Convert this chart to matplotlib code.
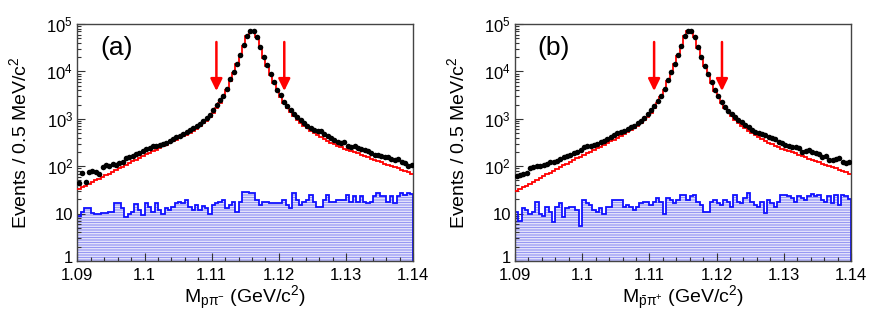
import numpy as np
import matplotlib
matplotlib.use("Agg")
import matplotlib.pyplot as plt
import matplotlib.transforms as mtransforms
from matplotlib.ticker import FixedLocator, MultipleLocator, FuncFormatter, LogLocator, NullFormatter

plt.rcParams['font.family'] = ['Liberation Sans', 'DejaVu Sans']
plt.rcParams['mathtext.fontset'] = 'custom'
plt.rcParams['mathtext.rm'] = 'Liberation Sans'
plt.rcParams['mathtext.it'] = 'Liberation Sans'
plt.rcParams['mathtext.sf'] = 'Liberation Sans'
plt.rcParams['mathtext.bf'] = 'Liberation Sans:bold'
plt.rcParams['hatch.linewidth'] = 0.55

# ---------------- data (100 bins of 0.5 MeV, 1.09 - 1.14 GeV) ----------------
x_range = [1.09, 1.14]
n_bins = 100

data_a = [44, 72, 46, 76, 80, 76, 68, 98, 108, 100,
          114, 108, 116, 120, 150, 158, 166, 178, 193, 208,
          232, 248, 262, 268, 282, 296, 316, 345, 382, 405,
          432, 478, 530, 578, 628, 700, 795, 905, 1020, 1200,
          1530, 1950, 2450, 3100, 4300, 6800, 9700, 14500, 22500, 35500,
          56000, 70000, 70000, 53000, 32500, 20000, 13400, 8900, 6000, 4000,
          3150, 2300, 1880, 1520, 1260, 1080, 940, 820, 720, 630,
          575, 540, 555, 470, 430, 392, 350, 330, 315, 325,
          268, 258, 265, 238, 228, 220, 205, 188, 175, 172,
          165, 160, 154, 140, 132, 143, 124, 115, 100, 106]

mc_a = [33, 36, 39, 42, 46, 50, 54, 59, 64, 70,
        76, 83, 90, 98, 107, 117, 127, 138, 150, 164,
        178, 192, 208, 225, 243, 263, 284, 307, 332, 360,
        389, 425, 465, 510, 560, 617, 700, 800, 920, 1070,
        1300, 1650, 2150, 2850, 4000, 6300, 9300, 14000, 21500, 34500,
        55000, 71000, 70000, 52000, 31500, 19500, 12800, 8400, 5600, 3800,
        2850, 2150, 1700, 1360, 1130, 950, 815, 710, 625, 555,
        495, 445, 405, 370, 340, 313, 290, 270, 252, 236,
        222, 209, 197, 186, 175, 163, 153, 144, 136, 128,
        121, 114, 108, 102, 96, 90, 85, 80, 75, 70]

bkg_a = [9, 11, 13, 13, 10.5, 10, 10, 10.5, 10.5, 11,
         11, 17, 17, 13, 8.5, 10, 11, 16, 12, 9.3,
         16.5, 14, 11, 16.5, 12, 10, 13, 12, 14, 16.5,
         18, 16.5, 19, 14, 12, 15, 12, 14.5, 13, 10,
         15, 16.5, 18, 19, 13, 15, 18, 11, 18, 29,
         29, 27, 27, 19, 15, 18, 18, 17, 17, 17,
         16.5, 19, 15, 13, 27, 19, 15, 18, 19, 25,
         18, 14, 14, 19, 25, 18, 18, 19, 19, 19,
         25, 18, 23, 18, 23, 18, 16.5, 18, 23, 27,
         23, 23, 18, 23, 16.5, 23, 27, 25, 27, 26]

data_b = [62, 65, 68, 73, 90, 97, 99, 101, 104, 112,
          122, 124, 126, 141, 155, 165, 173, 188, 203, 215,
          252, 265, 270, 282, 296, 318, 345, 375, 410, 455,
          495, 535, 565, 610, 670, 720, 800, 900, 1050, 1250,
          1500, 1900, 2400, 3100, 4200, 6700, 9600, 14300, 22000, 35000,
          55500, 70500, 69500, 52500, 32000, 20000, 13300, 8800, 6000, 4100,
          3030, 2300, 1750, 1480, 1240, 1070, 944, 855, 727, 661,
          580, 535, 493, 470, 455, 420, 394, 375, 330, 304,
          280, 267, 258, 250, 238, 202, 213, 220, 202, 187,
          181, 159, 164, 135, 135, 142, 147, 124, 119, 124]

mc_b = [30, 33, 36, 39, 43, 47, 51, 56, 61, 67,
        73, 80, 87, 95, 104, 113, 123, 134, 146, 159,
        173, 188, 204, 221, 240, 260, 282, 306, 332, 361,
        393, 430, 472, 520, 573, 635, 715, 815, 940, 1100,
        1330, 1680, 2180, 2900, 4050, 6300, 9300, 14000, 21500, 34500,
        55000, 71000, 70000, 52000, 31500, 19500, 12800, 8400, 5600, 3800,
        2850, 2150, 1700, 1360, 1130, 950, 815, 710, 625, 555,
        495, 445, 405, 370, 340, 313, 290, 270, 252, 236,
        222, 209, 197, 186, 175, 163, 153, 144, 136, 128,
        121, 114, 108, 102, 96, 90, 85, 80, 75, 70]

bkg_b = [11, 7, 13, 12, 10, 11, 18, 10, 9, 14,
         11, 6.5, 14, 17, 8.6, 13, 14, 14, 12, 5.6,
         19, 16.5, 15, 12, 11, 13, 10, 14, 14, 19,
         19, 19, 14, 15, 14, 12, 14, 16.5, 18, 18,
         15, 18, 21, 18, 10, 21, 19, 16.5, 19, 25,
         25, 19, 23, 25, 18, 15, 11, 11, 18, 19,
         16.5, 15, 19, 18, 14, 25, 18, 16.5, 21, 27,
         18, 15, 14, 18, 10.5, 19, 16.5, 14, 18, 25,
         25, 23, 21, 18, 23, 21, 19, 23, 26, 23,
         25, 19, 18, 23, 17, 25, 15, 25, 23, 20]

cut_window = [1.1107, 1.1208]
arrow_span = [41700, 3860]

panel_tags = ['(a)', '(b)']
x_titles = [r'M$_{p\pi^{-}}$ (GeV/c$^{2}$)',
            r'M$_{\bar{p}\pi^{+}}$ (GeV/c$^{2}$)']
y_title = r'Events / 0.5 MeV/c$^{2}$'
x_tick_vals = [1.09, 1.10, 1.11, 1.12, 1.13, 1.14]
y_tick_vals = [1, 10, 100, 1000, 10000, 100000]
y_tick_labels = ['1', '10', r'$10^{2}$', r'$10^{3}$', r'$10^{4}$', r'$10^{5}$']

# ---------------- plotting ----------------
edges = np.linspace(x_range[0], x_range[1], n_bins + 1)
centers = 0.5 * (edges[:-1] + edges[1:])

fig = plt.figure(figsize=(8.72, 3.19), dpi=100)
lefts = [77.3 / 872, 515.0 / 872]
W = 336.0 / 872
B = (319 - 261.0) / 319
H = 237.0 / 319

panels = [(data_a, mc_a, bkg_a), (data_b, mc_b, bkg_b)]
for k, (dat, mc, bkg) in enumerate(panels):
    ax = fig.add_axes([lefts[k], B, W, H])
    ax.set_yscale('log')
    ax.set_xlim(*x_range)
    ax.set_ylim(1, 1e5)

    ax.stairs(bkg, edges, baseline=1e-3, fill=True, hatch='----------',
              facecolor='none', edgecolor='#7878f0', linewidth=0, zorder=1)
    ax.stairs(bkg, edges, baseline=1e-3, color='#1010ff', lw=1.3, zorder=2)
    ax.stairs(mc, edges, baseline=None, color='#ff0000', lw=1.3, zorder=3)
    ax.plot(centers, dat, 'o', color='black', ms=4.0, mew=0, zorder=4)

    for xc in cut_window:
        ax.annotate('', xy=(xc, arrow_span[1]), xytext=(xc, arrow_span[0]),
                    arrowprops=dict(arrowstyle='-|>,head_length=0.45,head_width=0.22',
                                    color='#ff0000', lw=1.8, mutation_scale=16,
                                    shrinkA=0, shrinkB=0), zorder=5)

    ax.xaxis.set_major_locator(FixedLocator(x_tick_vals))
    ax.xaxis.set_major_formatter(FuncFormatter(lambda v, p: '%g' % round(v, 4)))
    ax.xaxis.set_minor_locator(MultipleLocator(0.002))
    ax.yaxis.set_major_locator(FixedLocator(y_tick_vals))
    ax.set_yticklabels(y_tick_labels)
    ax.yaxis.set_minor_locator(LogLocator(base=10, subs=np.arange(2, 10)))
    ax.yaxis.set_minor_formatter(NullFormatter())

    ax.tick_params(which='both', direction='in', top=False, right=False,
                   labelsize=12, width=0.8, color='#333333')
    ax.tick_params(which='major', length=6)
    ax.tick_params(which='minor', length=3)
    ax.tick_params(axis='y', pad=3)
    ax.tick_params(axis='x', pad=5)
    for sp in ax.spines.values():
        sp.set_linewidth(1.0)
        sp.set_color('#444444')

    # lift the lowest y label ("1") slightly so it clears the "1.09" label
    lbl0 = ax.get_yticklabels()[0]
    lbl0.set_transform(lbl0.get_transform() +
                       mtransforms.ScaledTranslation(0, 3 / 72, fig.dpi_scale_trans))

    ax.set_ylabel(y_title, fontsize=14)
    ax.yaxis.set_label_coords(-0.14, 0.5)
    ax.set_xlabel(x_titles[k], fontsize=14)
    ax.xaxis.set_label_coords(0.5, -0.095)

    ax.text(0.068, 0.897, panel_tags[k], transform=ax.transAxes,
            fontsize=19, va='center', ha='left')

fig.savefig('out.png', dpi=100)
